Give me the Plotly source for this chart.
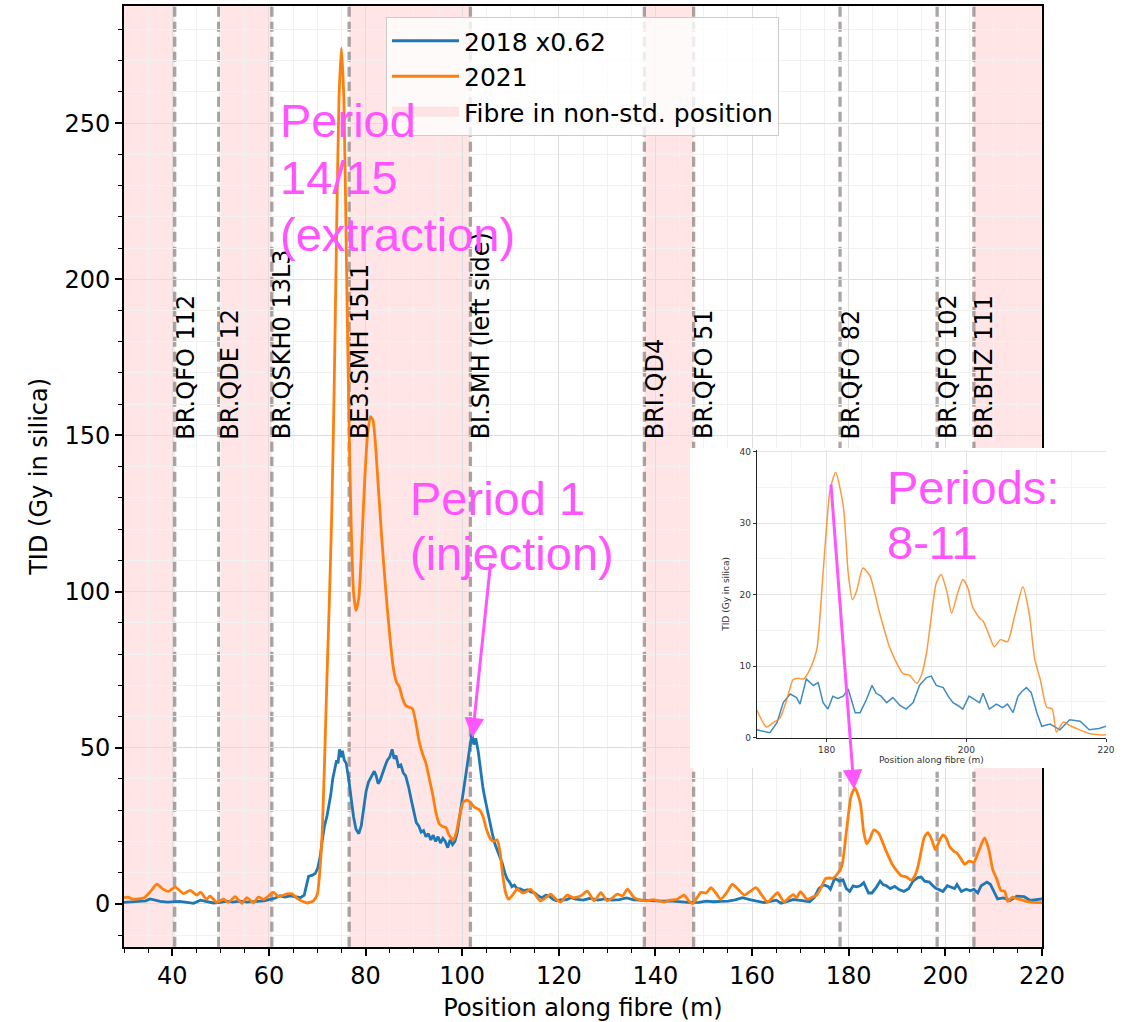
import plotly.graph_objects as go

# ---------------- data ----------------
x2018 = [30.0, 31.5, 33.0, 34.5, 35.4, 36.2, 37.5, 39.0, 40.2, 41.5, 43.0, 44.4, 45.8, 47.0, 48.5,
         50.0, 51.3, 52.5, 54.0, 55.5, 57.5, 59.0, 60.0, 61.2, 62.3, 63.3, 64.4, 65.5, 66.5, 67.3,
         67.8, 68.2, 69.0, 69.6, 70.1, 70.6, 71.0, 71.5, 72.0, 72.4, 72.8, 73.2, 73.6, 74.0, 74.3,
         74.6, 74.9, 75.2, 75.6, 76.0, 76.5, 77.0, 77.5, 78.0, 78.6, 79.1, 79.6, 80.1, 80.6, 81.2,
         81.8, 82.2, 82.6, 83.0, 83.5, 84.0, 84.5, 85.0, 85.5, 85.9, 86.3, 86.8, 87.3, 87.8, 88.3,
         88.9, 89.5, 90.0, 90.5, 91.0, 91.5, 92.0, 92.5, 93.0, 93.5, 94.0, 94.5, 95.0, 95.5, 96.0,
         96.5, 97.0, 97.5, 98.0, 98.5, 99.0, 99.5, 100.0, 100.5, 101.0, 101.5, 102.0, 102.4, 102.8,
         103.3, 103.8, 104.3, 104.8, 105.3, 105.8, 106.3, 106.8, 107.3, 107.8, 108.3, 108.8, 109.3,
         109.8, 110.3, 110.8, 111.3, 112.0, 112.8, 113.5, 114.2, 115.0, 115.8, 116.5, 117.3, 118.0,
         118.8, 119.5, 120.5, 121.5, 122.5, 123.5, 125.0, 126.5, 128.0, 129.5, 131.0, 132.5, 134.0,
         135.5, 137.0, 138.5, 140.0, 141.5, 143.0, 144.5, 146.0, 147.5, 149.0, 150.5, 152.0, 153.5,
         155.0, 156.5, 158.0, 159.5, 161.0, 162.5, 164.0, 165.0, 166.0, 167.0, 168.5, 170.0, 171.0,
         171.9, 172.9, 173.8, 174.8, 175.7, 176.2, 177.1, 178.1, 178.8, 179.5, 180.2, 180.9, 181.6,
         182.4, 183.1, 184.1, 184.8, 185.7, 186.5, 187.1, 187.8, 188.6, 189.5, 190.5, 191.4, 192.4,
         193.3, 194.3, 195.0, 195.7, 196.7, 197.4, 198.1, 198.8, 199.5, 200.4, 201.2, 201.9, 202.4,
         203.3, 204.3, 205.2, 205.9, 206.7, 207.4, 208.0, 208.6, 209.3, 210.1, 210.8, 212.0, 213.4,
         214.8, 216.3, 217.6, 219.0, 220.0]
y2018 = [0.5, 0.6, 0.8, 1.0, 1.6, 1.3, 0.8, 0.6, 0.6, 0.8, 0.5, 0.2, 1.2, 0.9, 0.3,
         0.5, 0.9, 0.6, 0.9, 0.6, 0.9, 1.0, 1.4, 1.8, 2.6, 2.2, 2.6, 2.3, 2.0, 2.8,
         6.0, 8.8, 9.2, 9.8, 11.5, 15, 20, 25, 28, 31, 35, 40, 43, 46, 45,
         49.5, 47, 49, 46, 45, 40, 33, 28, 24, 22.5, 25, 31, 36, 39, 41,
         42.5, 41, 38.5, 39.5, 42, 44, 46, 47, 49.5, 46.5, 47.5, 44, 44.5, 42, 41,
         37.5, 33, 29, 26, 25, 23, 23.5, 21.5, 22.5, 20.5, 22, 20, 21.5, 19.5, 21,
         20, 18, 20.5, 19, 20, 23, 28, 34, 39, 43, 48, 54.5, 51, 53,
         49, 43, 37, 33, 29, 25, 22, 19, 17, 15.5, 13, 10, 8,
         7, 5.5, 6, 5, 4.8, 4.2, 4.5, 3.8, 3.5, 2.5, 2.0, 2.8, 2.5,
         1.5, 1.0, 1.4, 1.3, 2.0, 1.5, 1.2, 1.8, 1.2, 1.6, 1.2, 1.4, 1.9,
         1.3, 1.2, 1.0, 1.1, 0.9, 1.0, 0.7, 0.6, 0.4, 0.5, 0.9, 0.7, 0.8,
         0.9, 1.3, 2.0, 1.4, 0.8, 0.4, 0.9, 1.2, 0.2, 0.6, 1.4, 1.1, 0.9,
         0.7, 2.1, 4.9, 6.1, 5.6, 4.7, 8.2, 7.3, 7.7, 4.9, 4.0, 5.8, 5.5,
         5.8, 6.8, 3.5, 3.5, 5.3, 7.3, 6.2, 5.8, 4.9, 5.6, 4.5, 4.0, 4.9,
         7.3, 8.4, 8.6, 7.3, 7.0, 5.8, 4.9, 4.5, 4.0, 5.8, 5.3, 4.9, 6.2,
         4.0, 4.7, 4.2, 4.7, 3.5, 5.8, 6.5, 7.0, 6.3, 3.5, 1.6, 1.9, 1.1,
         2.5, 2.3, 1.1, 1.3, 1.6]

x2021 = [30.0, 30.8, 31.9, 33.0, 34.2, 35.5, 36.8, 38.0, 39.2, 40.6, 42.3, 43.7, 45.1, 45.8, 47.1,
         47.8, 49.2, 50.6, 51.6, 53.0, 54.4, 55.4, 56.8, 57.8, 58.9, 59.9, 60.9, 62.0, 63.7, 64.8,
         65.8, 67.0, 67.9, 69.2, 70.0, 70.5, 71.0, 71.5, 72.0, 72.5, 73.0, 73.5, 74.0, 74.5, 75.0,
         75.5, 76.0, 76.5, 77.0, 77.5, 78.0, 78.6, 79.2, 79.8, 80.4, 81.0, 81.5, 82.0, 82.7, 83.4,
         84.2, 85.0, 85.7, 86.4, 87.0, 87.6, 88.3, 89.0, 89.7, 90.4, 91.1, 91.8, 92.5, 93.2, 93.9,
         94.6, 95.3, 96.0, 96.6, 97.3, 98.2, 98.8, 99.5, 100.2, 101.0, 101.7, 102.5, 103.5, 104.3,
         105.0, 105.8, 106.5, 107.2, 107.8, 108.4, 109.0, 109.6, 110.4, 111.4, 112.5, 113.3, 114.1,
         115.2, 116.2, 117.3, 118.3, 119.4, 120.4, 121.7, 123.0, 124.5, 125.9, 127.3, 128.7, 130.0,
         131.0, 132.1, 133.2, 134.2, 135.6, 137.0, 138.3, 139.5, 140.5, 141.8, 143.0, 144.5, 145.9,
         147.0, 147.7, 148.6, 149.4, 150.5, 151.5, 152.5, 153.5, 154.7, 155.9, 157.2, 158.4, 159.6,
         160.8, 162.0, 163.2, 164.3, 165.3, 166.6, 167.5, 168.5, 169.2, 170.0, 171.4, 172.5, 173.3,
         174.3, 175.2, 176.0, 176.7, 177.6, 178.6, 179.5, 180.5, 181.3, 182.4, 183.1, 183.7, 184.3,
         185.2, 186.2, 187.6, 189.0, 190.0, 190.9, 191.9, 192.9, 193.6, 194.3, 195.0, 195.7, 196.4,
         197.2, 197.9, 198.7, 199.5, 200.2, 200.9, 201.9, 202.4, 203.2, 204.0, 204.9, 205.9, 206.9,
         208.1, 209.0, 209.8, 210.6, 211.5, 212.3, 212.9, 213.9, 214.8, 216.0, 217.6, 219.0, 220.0]
y2021 = [2.0, 2.2, 1.5, 1.6, 2.0, 4.0, 6.3, 4.8, 4.0, 5.4, 3.3, 4.3, 2.8, 3.8, 1.5,
         2.5, 0.5, 1.5, 0.5, 2.3, 0.2, 2.0, 0.3, 2.2, 1.5, 2.5, 3.8, 2.3, 3.2, 3.2,
         1.8, 0.8, 0.3, 1.0, 3.0, 10, 22, 45, 72, 97, 125, 165, 215, 258, 274,
         258, 210, 160, 122, 100, 94, 98, 115, 135, 150, 156, 155, 148, 132, 116,
         100, 86, 76, 71, 69.5, 66, 63.5, 63, 62.5, 58, 52, 48, 45, 40, 35,
         29, 25.5, 24.8, 24.5, 22, 20.5, 23, 28.5, 32.5, 33.2, 32.5, 31, 30.2, 28,
         24, 21, 20, 20.5, 17, 9, 3.5, 1.5, 2.8, 4.7, 3.5, 3.9, 4.7,
         2.8, 1.0, 2.0, 3.1, 1.5, 0.6, 2.8, 2.0, 2.5, 4.1, 1.0, 3.6, 1.0,
         1.8, 3.1, 2.6, 4.7, 2.0, 1.2, 1.0, 1.4, 1.0, 0.6, 1.2, 1.5, 2.8,
         0.8, 0.1, 2.0, 3.7, 3.5, 5.2, 3.5, 1.5, 3.5, 6.3, 4.5, 2.8, 4.0,
         5.2, 2.8, 0.6, 2.2, 3.6, 0.6, 1.8, 3.0, 2.0, 3.9, 1.5, 2.2, 2.7,
         5.3, 8.1, 8.3, 8.2, 9.5, 12.3, 23, 34.6, 37.1, 32.3, 23, 19.3, 20.5,
         23.7, 22.6, 17.4, 12.7, 10.5, 9, 8.7, 7.6, 8.8, 11.8, 17, 21.6, 22.8,
         20.5, 17.4, 20, 22.1, 21, 18.3, 16.7, 16.3, 14.5, 12.7, 13.7, 13.4, 16.9,
         21.1, 17.4, 11, 8.1, 4.3, 4.0, 0.8, 2.2, 1.7, 1.2, 0.6, 0.4, 0.4]

marker_pos = [40.5, 49.6, 60.6, 76.6, 101.7, 137.7, 147.9, 178.2, 198.3, 205.9]
marker_names = ["BR.QFO 112", "BR.QDE 12", "BR.QSKH0 13L3", "BE3.SMH 15L1", "BI.SMH (left side)",
                "BRI.QD4", "BR.QFO 51", "BR.QFO 82", "BR.QFO 102", "BR.BHZ 111"]
span_start = [28.0, 49.6, 76.6, 137.7, 205.9]
span_end = [40.5, 60.6, 101.7, 147.9, 222.0]

period_lines = [["Period", "14/15", "(extraction)"], ["Period 1", "(injection)"], ["Periods:", "8-11"]]

# ---------------- styling ----------------
W, H = 1123, 1022
BLUE = "#1f77b4"
ORANGE = "#ff7f0e"
PINK = "rgba(255,0,0,0.1)"
PINK_SOLID = "#fde3e3"
MAG = "#ff55ff"
FONT = "DejaVu Sans"

def fx(px):
    return px / W

def fy(py):
    return 1 - py / H

def dx(px):
    return 30 + (px - 124) / 4.825

def dy(py):
    return (904.7 - py) / 3.127

main_x = [fx(124), fx(1042)]
main_y = [fy(946.7), fy(6)]
cover_x = [fx(690), fx(1110)]
cover_y = [fy(768), fy(448)]
ins_x = [fx(756.7), fx(1106)]
ins_y = [fy(737.7), fy(450)]

fig = go.Figure()

fig.add_trace(go.Scatter(x=x2018, y=y2018, mode="lines", name="2018 x0.62", legendgroup="a",
                         line=dict(color=BLUE, width=2.8), xaxis="x", yaxis="y"))
fig.add_trace(go.Scatter(x=x2021, y=y2021, mode="lines", name="2021", legendgroup="b",
                         line=dict(color=ORANGE, width=2.8, shape="spline", smoothing=0.6),
                         xaxis="x", yaxis="y"))
# legend proxy for the shaded spans (lies outside the visible x range)
fig.add_trace(go.Scatter(x=[0, 1], y=[0, 0], mode="lines",
                         line=dict(width=20, color=PINK_SOLID), legendgroup="c",
                         name="Fibre in non-std. position", hoverinfo="skip",
                         xaxis="x", yaxis="y"))

# cover (white background of pasted inset)
fig.add_trace(go.Scatter(x=[None], y=[None], showlegend=False, xaxis="x2", yaxis="y2"))

ix18 = [x for x in x2018 if x >= 170]
iy18 = [y for x, y in zip(x2018, y2018) if x >= 170]
ix21 = [x for x in x2021 if x >= 170]
iy21 = [y for x, y in zip(x2021, y2021) if x >= 170]
fig.add_trace(go.Scatter(x=ix18, y=iy18, mode="lines", showlegend=False,
                         line=dict(color="rgba(31,119,180,0.85)", width=1.5), xaxis="x3", yaxis="y3"))
fig.add_trace(go.Scatter(x=ix21, y=iy21, mode="lines", showlegend=False,
                         line=dict(color="rgba(255,127,14,0.8)", width=1.5, shape="spline", smoothing=0.6),
                         xaxis="x3", yaxis="y3"))

shapes = []
for s, e in zip(span_start, span_end):
    shapes.append(dict(type="rect", xref="x", yref="y domain", x0=s, x1=e, y0=0, y1=1,
                       fillcolor=PINK, line=dict(width=0), layer="below"))
for p in marker_pos:
    shapes.append(dict(type="line", xref="x", yref="y domain", x0=p, x1=p, y0=0, y1=1,
                       line=dict(color="rgba(115,105,105,0.6)", width=3.3, dash="10px,5px"),
                       layer="below"))
for s, e in zip(span_start, span_end):
    if e > 170:
        shapes.append(dict(type="rect", xref="x3", yref="y3 domain", x0=max(s, 170), x1=min(e, 220),
                           y0=0, y1=1, fillcolor=PINK, line=dict(width=0), layer="below"))
for p in marker_pos:
    if p > 170:
        shapes.append(dict(type="line", xref="x3", yref="y3 domain", x0=p - 0.3, x1=p - 0.3, y0=0, y1=1,
                           line=dict(color="rgba(128,128,128,0.6)", width=1, dash="4px,3px"),
                           layer="below"))

annotations = []
for p, n in zip(marker_pos, marker_names):
    annotations.append(dict(x=p, y=150, xref="x", yref="y", text=n, showarrow=False,
                            textangle=-90, xanchor="left", yanchor="bottom", xshift=-4, yshift=-5,
                            font=dict(family=FONT, size=24, color="black"), borderpad=0))

magfont = dict(family="Liberation Sans", size=47, color=MAG)
period_pos = [(279, [93, 150, 207]), (409, [471, 526]), (885, [460.7, 515.7])]
for lines, (lpx, tops) in zip(period_lines, period_pos):
    for txt, tpx in zip(lines, tops):
        annotations.append(dict(x=dx(lpx), y=dy(tpx), xref="x", yref="y", text=txt,
                                showarrow=False, xanchor="left", yanchor="top", align="left",
                                font=magfont, borderpad=0))

annotations.append(dict(x=102.1, y=53.3, ax=105.9, ay=109.6, xref="x", yref="y", axref="x", ayref="y",
                        text="", showarrow=True, arrowhead=2, arrowsize=1.3, arrowwidth=3,
                        arrowcolor=MAG, standoff=0))
annotations.append(dict(x=181.1, y=36.7, ax=176.3, ay=134.8, xref="x", yref="y", axref="x", ayref="y",
                        text="", showarrow=True, arrowhead=2, arrowsize=1.3, arrowwidth=3,
                        arrowcolor=MAG, standoff=0))

tickfont = dict(family=FONT, size=24, color="black")
insfont = dict(family=FONT, size=9, color="#333333")

fig.update_layout(
    width=W, height=H,
    margin=dict(l=0, r=0, t=0, b=0),
    paper_bgcolor="white", plot_bgcolor="white",
    showlegend=True,
    legend=dict(x=fx(386), y=fy(17), xref="paper", yref="paper", xanchor="left", yanchor="top",
                bgcolor="rgba(255,255,255,0.8)", bordercolor="#cccccc", borderwidth=1,
                font=dict(family=FONT, size=25, color="black"), itemwidth=67,
                tracegroupgap=5, traceorder="normal"),
    xaxis=dict(domain=main_x, anchor="y", range=[30, 220], tick0=0, dtick=20,
               ticks="outside", ticklen=7, tickwidth=1.5, tickcolor="black",
               showline=True, mirror=True, linecolor="black", linewidth=1.6,
               showgrid=True, gridcolor="#dedede", gridwidth=1, zeroline=False,
               tickfont=tickfont,
               minor=dict(dtick=5, tick0=0, ticks="outside", ticklen=4, tickwidth=1.2,
                          tickcolor="black", showgrid=True, gridcolor="#f1f1f1", gridwidth=1),
               title=dict(text="Position along fibre (m)", font=tickfont, standoff=14),
               automargin=False),
    yaxis=dict(domain=main_y, anchor="x", range=[-13.7, 287.5], tick0=0, dtick=50,
               ticks="outside", ticklen=7, tickwidth=1.5, tickcolor="black",
               showline=True, mirror=True, linecolor="black", linewidth=1.6,
               showgrid=True, gridcolor="#dedede", gridwidth=1, zeroline=False,
               tickfont=tickfont,
               minor=dict(dtick=10, tick0=0, ticks="outside", ticklen=4, tickwidth=1.2,
                          tickcolor="black", showgrid=True, gridcolor="#f1f1f1", gridwidth=1),
               title=dict(text="TID (Gy in silica)", font=tickfont, standoff=10),
               automargin=False),
    xaxis2=dict(domain=cover_x, anchor="y2", range=[0, 1], showline=False,
                showgrid=False, zeroline=False, showticklabels=False, ticks=""),
    yaxis2=dict(domain=cover_y, anchor="x2", range=[0, 1], showline=False,
                showgrid=False, zeroline=False, showticklabels=False, ticks=""),
    xaxis3=dict(domain=ins_x, anchor="y3", range=[170, 220], tick0=0, dtick=20,
                ticks="outside", ticklen=3, tickwidth=1, tickcolor="#333",
                showline=True, linecolor="#222", linewidth=1, mirror=False,
                showgrid=True, gridcolor="#e4e4e4", gridwidth=1, zeroline=False,
                tickfont=insfont,
                minor=dict(dtick=5, showgrid=True, gridcolor="#f3f3f3", ticks=""),
                title=dict(text="Position along fibre (m)", font=insfont, standoff=3),
                automargin=False),
    yaxis3=dict(domain=ins_y, anchor="x3", range=[0, 40.2], tick0=0, dtick=10,
                ticks="outside", ticklen=3, tickwidth=1, tickcolor="#333",
                showline=True, linecolor="#222", linewidth=1, mirror=False,
                showgrid=True, gridcolor="#e4e4e4", gridwidth=1, zeroline=False,
                tickfont=insfont,
                minor=dict(dtick=5, showgrid=True, gridcolor="#f3f3f3", ticks=""),
                title=dict(text="TID (Gy in silica)", font=insfont, standoff=8),
                automargin=False),
    shapes=shapes,
    annotations=annotations,
)

fig.write_html("out.html")
